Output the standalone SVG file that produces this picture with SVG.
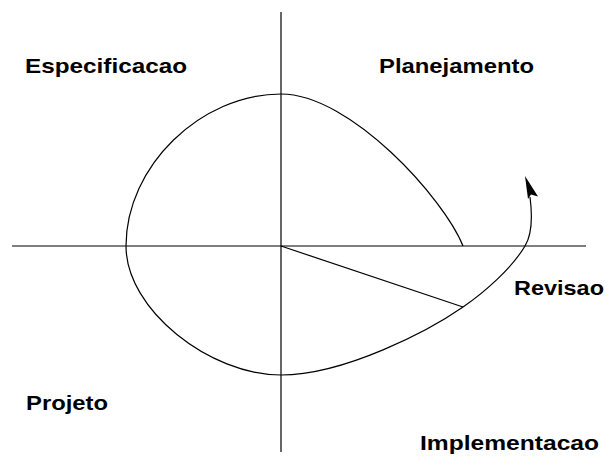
<svg xmlns="http://www.w3.org/2000/svg" width="605" height="458" viewBox="0 0 605 458">
<style>
.lbl{font-family:"Liberation Sans",Arial,Helvetica,sans-serif;font-weight:bold;font-size:21px;fill:#000}
.ln{fill:none;stroke:#000;stroke-width:1.2}
</style>
<rect width="605" height="458" fill="#fff"/>
<g id="axes">
<line class="ln" x1="12" y1="246" x2="586" y2="246"/>
<line class="ln" x1="281" y1="12" x2="281" y2="452"/>
</g>
<g id="connectors">
<path class="ln" d="M463,246 C444.5,199.5 351,94 281,94 C201,94 126,166 126,246 C126,310 210,375 281,375 C345,375 430,330 463,307 C485,292 512,268 525,246 C531,236 533,220 530,197"/>
<line class="ln" x1="281" y1="246" x2="463" y2="307"/>
<polygon points="525,176 538,196.5 531,194.5 528,199" fill="#000"/>
</g>
<g id="especificacao"><text class="lbl" x="25" y="73" textLength="162" lengthAdjust="spacingAndGlyphs">Especificacao</text></g>
<g id="planejamento"><text class="lbl" x="379" y="73" textLength="155" lengthAdjust="spacingAndGlyphs">Planejamento</text></g>
<g id="revisao"><text class="lbl" x="514" y="295" textLength="90" lengthAdjust="spacingAndGlyphs">Revisao</text></g>
<g id="projeto"><text class="lbl" x="26" y="410" textLength="82" lengthAdjust="spacingAndGlyphs">Projeto</text></g>
<g id="implementacao"><text class="lbl" x="420" y="450" textLength="179" lengthAdjust="spacingAndGlyphs">Implementacao</text></g>
</svg>
